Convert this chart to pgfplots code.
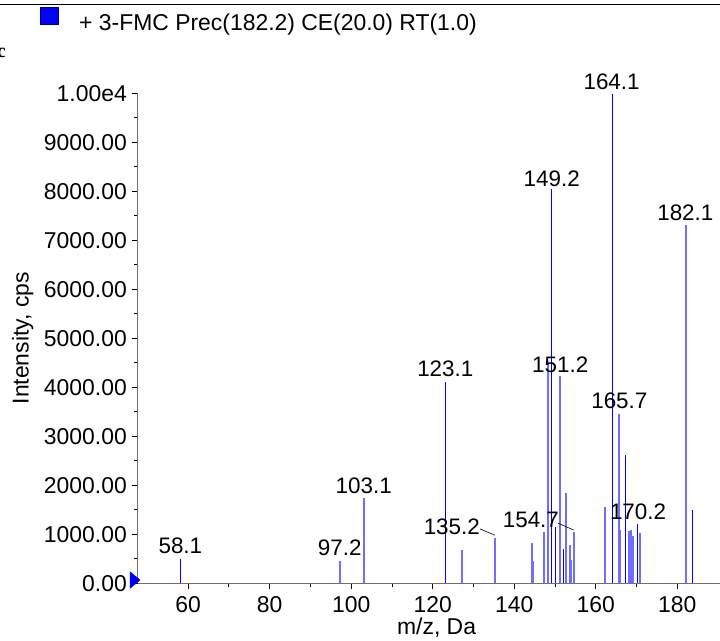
\documentclass[border=0pt]{standalone}
\usepackage{pgfplots}
\pgfplotsset{compat=1.18}
\usepackage{fontspec}
\setmainfont{Liberation Sans}
\newfontfamily\seriffont{Liberation Serif}

\definecolor{peak}{RGB}{0,0,255}
\definecolor{peaklt}{RGB}{110,110,255}
\definecolor{spine}{RGB}{110,110,110}

% right-pointing marker at the zero line
\pgfdeclareplotmark{rtri}{%
  \pgfpathmoveto{\pgfqpoint{-10bp}{-8.3bp}}%
  \pgfpathlineto{\pgfqpoint{0bp}{0bp}}%
  \pgfpathlineto{\pgfqpoint{-10bp}{8.3bp}}%
  \pgfpathclose
  \pgfusepathqfillstroke}

\newcommand{\lbl}{\fontsize{22.5}{26}\selectfont}

\begin{document}
\begin{tikzpicture}
\useasboundingbox (-138bp,-57.7bp) rectangle (582bp,583.3bp);
\begin{axis}[
    at={(0,0)}, anchor=south west,
    scale only axis, width=582bp, height=490bp,
    xmin=47.7, xmax=190.5,
    ymin=0, ymax=10000,
    axis x line*=bottom, axis y line*=left,
    axis line style={spine, line width=1bp},
    tick align=outside,
    tick style={black, line width=0.8bp},
    major tick length=6bp, minor tick length=3.5bp,
    xtick={60,80,...,180}, minor x tick num=1,
    ytick={0,1000,...,10000},
    yticklabels={0.00,1000.00,2000.00,3000.00,4000.00,5000.00,6000.00,7000.00,8000.00,9000.00,1.00e4},
    minor y tick num=1,
    scaled y ticks=false,
    /pgf/number format/assume math mode=true,
    tick label style={font=\fontsize{23}{27}\selectfont},
    yticklabel style={anchor=east, inner sep=0pt, xshift=-5bp},
    xticklabel style={anchor=north, inner sep=0pt, yshift=-7bp},
    xlabel={m/z, Da}, ylabel={Intensity, cps},
    label style={font=\fontsize{23}{27}\selectfont, inner sep=0pt},
    xlabel style={at={(axis description cs:0.513,-0.091)}, anchor=center},
    ylabel style={at={(axis description cs:-0.198,0.5)}, anchor=center, rotate=0},
    clip=false,
]

% peaks drawn in full blue
\addplot[ycomb, peak, line width=1bp, mark=none] coordinates {
    (58.1,500) (123.1,4100) (149.2,8050) (150.1,1150) (152.0,700)
    (164.1,9990) (167.3,2620) (170.2,1210) (183.8,1500)
};
% peaks drawn in the lighter blue
\addplot[ycomb, peaklt, line width=2bp, mark=none] coordinates {
    (97.2,460) (103.1,1740) (127.2,680) (135.3,920) (144.4,820)
    (144.6,460) (147.3,1040) (148.3,4540) (151.2,4230) (152.6,1840)
    (153.6,780) (154.0,475) (154.6,1040) (162.3,1560) (165.7,3460)
    (166.0,1090) (168.2,1075) (168.7,1090) (169.1,970) (170.8,1030)
    (182.1,7320)
};

\addplot[only marks, mark=rtri, fill=peak, draw=peak!60!black, line width=0.4bp]
    coordinates {(48.2,67)};

% peak labels
\node[font=\lbl, inner sep=0pt] at (axis cs:58.1,761) {58.1};
\node[font=\lbl, inner sep=0pt] at (axis cs:97.2,720) {97.2};
\node[font=\lbl, inner sep=0pt] at (axis cs:103.1,1986) {103.1};
\node[font=\lbl, inner sep=0pt] at (axis cs:123.1,4373) {123.1};
\node[font=\lbl, inner sep=0pt] at (axis cs:124.7,1155) {135.2};
\node[font=\lbl, inner sep=0pt] at (axis cs:149.2,8265) {149.2};
\node[font=\lbl, inner sep=0pt] at (axis cs:151.3,4469) {151.2};
\node[font=\lbl, inner sep=0pt] at (axis cs:144.1,1292) {154.7};
\node[font=\lbl, inner sep=0pt] at (axis cs:163.9,10237) {164.1};
\node[font=\lbl, inner sep=0pt] at (axis cs:165.8,3720) {165.7};
\node[font=\lbl, inner sep=0pt] at (axis cs:170.4,1461) {170.2};
\node[font=\lbl, inner sep=0pt] at (axis cs:182.0,7571) {182.1};
\draw[black, line width=0.6bp] (axis cs:131.6,1110) -- (axis cs:135.3,981);
\draw[black, line width=0.6bp] (axis cs:150.8,1224) -- (axis cs:154.6,1088);
\end{axis}

% panel frame line and legend entry
\draw[black, line width=1bp] (-138bp,578.3bp) -- (582bp,578.3bp);
\filldraw[fill=peak, draw=peak!50!black, line width=0.4bp] (-98bp,559bp) rectangle (-80bp,576bp);
\node[anchor=base west, inner sep=0pt, font=\fontsize{23}{27}\selectfont]
    at (-59bp,553bp) {+ 3-FMC Prec(182.2) CE(20.0) RT(1.0)};
\node[anchor=east, inner sep=0pt, font=\seriffont\bfseries\fontsize{20}{22}\selectfont]
    at (-132bp,530bp) {rc};
\end{tikzpicture}
\end{document}
